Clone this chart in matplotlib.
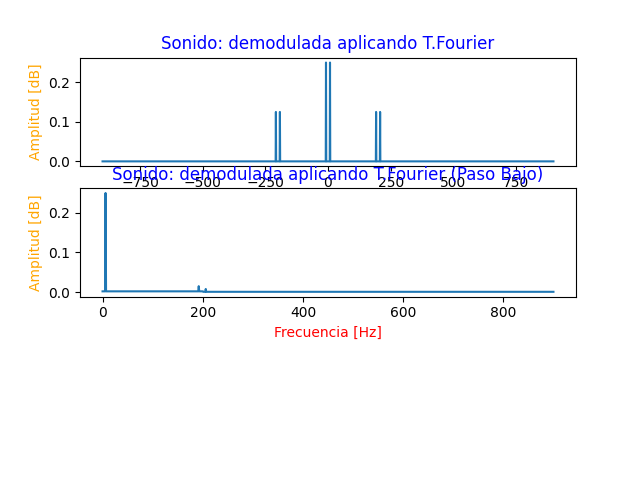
import numpy as np
import matplotlib
matplotlib.use("Agg")
import matplotlib.pyplot as plt

# espectro completo (bilateral)
picos_f = [-208, -192, -8, 8, 192, 208]
picos_a = [0.125, 0.125, 0.25, 0.25, 0.125, 0.125]

# espectro tras paso bajo
bajo_f = [6, 192, 206]
bajo_a = [0.25, 0.015, 0.008]
bajo_base = 0.002

f = np.arange(-900, 901, 1)
amp = np.zeros_like(f, dtype=float)
for p, a in zip(picos_f, picos_a):
    amp[f == p] = a

f2 = np.arange(0, 901, 1)
amp2 = np.full(f2.shape, bajo_base, dtype=float)
amp2[f2 > 200] = 0.0008
for p, a in zip(bajo_f, bajo_a):
    amp2[f2 == p] = a

fig = plt.figure(figsize=(6.4, 4.8), dpi=100)

ax1 = fig.add_subplot(311)
ax1.plot(f, amp)
ax1.set_title("Sonido: demodulada aplicando T.Fourier", color="blue")
ax1.set_ylabel("Amplitud [dB]", color="orange")

ax2 = fig.add_subplot(312)
ax2.plot(f2, amp2)
ax2.set_title("Sonido: demodulada aplicando T.Fourier (Paso Bajo)", color="blue")
ax2.set_ylabel("Amplitud [dB]", color="orange")
ax2.set_xlabel("Frecuencia [Hz]", color="red")

fig.savefig("out.png")
